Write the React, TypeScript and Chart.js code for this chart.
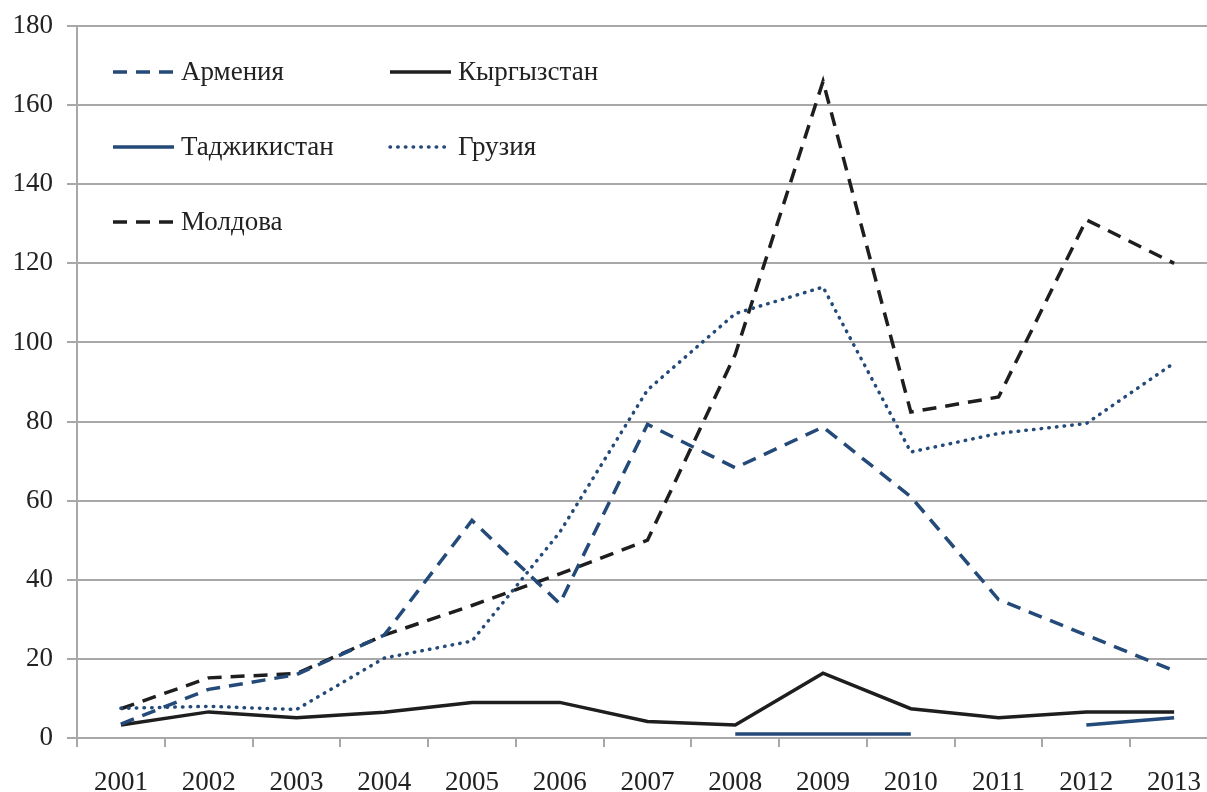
import React, { useEffect, useRef } from "react";
import { Chart, registerables } from "chart.js";

Chart.register(...registerables);

const years = ["2001", "2002", "2003", "2004", "2005", "2006", "2007", "2008", "2009", "2010", "2011", "2012", "2013"];
const armenia = [3.5, 12.3, 16, 26, 55, 34, 79.3, 68.3, 78.6, 61, 35, 26, 17];
const kyrgyzstan = [3.3, 6.6, 5.1, 6.5, 9, 9, 4.2, 3.3, 16.4, 7.4, 5.1, 6.6, 6.6];
const tajikistan = [null, null, null, null, null, null, null, 1, 1, 1, null, 3.3, 5.1];
const georgia = [7.5, 8, 7.2, 20.2, 24.5, 52, 88, 107.3, 114, 72.3, 77, 79.5, 94.8];
const moldova = [7.4, 15.2, 16.3, 26, 33.5, 41.5, 50, 97, 166, 82.4, 86.2, 131, 120];
const yTicks = { min: 0, max: 180, step: 20 };

const BLUE = "#234A78";
const BLACK = "#1E1E1E";
const GRID = "#A8A8A8";
const FONT = "'Liberation Serif', 'Times New Roman', serif";
const DASH = [14, 9];
const DOT = [0.5, 7.2];

const legendItems = [
  { label: "Армения", color: BLUE, dash: DASH, cap: "butt", col: 0, row: 0 },
  { label: "Кыргызстан", color: BLACK, dash: [], cap: "butt", col: 1, row: 0 },
  { label: "Таджикистан", color: BLUE, dash: [], cap: "butt", col: 0, row: 1 },
  { label: "Грузия", color: BLUE, dash: DOT, cap: "round", col: 1, row: 1 },
  { label: "Молдова", color: BLACK, dash: DASH, cap: "butt", col: 0, row: 2 },
];

const legendPlugin = {
  id: "customLegend",
  afterDraw(chart: any) {
    const { ctx, chartArea } = chart;
    const colX = [chartArea.left + 36, chartArea.left + 313];
    const rowY = [chartArea.top + 46, chartArea.top + 121, chartArea.top + 196];
    ctx.save();
    legendItems.forEach((it) => {
      const x = colX[it.col];
      const y = rowY[it.row];
      ctx.beginPath();
      ctx.strokeStyle = it.color;
      ctx.lineWidth = 3.5;
      ctx.lineCap = it.cap;
      ctx.setLineDash(it.dash);
      ctx.moveTo(x, y);
      ctx.lineTo(x + 61, y);
      ctx.stroke();
      ctx.setLineDash([]);
      ctx.fillStyle = "#222";
      ctx.font = `27px ${FONT}`;
      ctx.textBaseline = "middle";
      ctx.textAlign = "left";
      ctx.fillText(it.label, x + 68, y + 1);
    });
    ctx.restore();
  },
};

export default function App() {
  const ref = useRef<HTMLCanvasElement | null>(null);
  useEffect(() => {
    if (!ref.current) return;
    const mk = (label: string, data: any[], color: string, dash: number[], cap: string) => ({
      label,
      data,
      borderColor: color,
      backgroundColor: color,
      borderWidth: 3.5,
      borderDash: dash,
      borderCapStyle: cap,
      pointRadius: 0,
      tension: 0,
      spanGaps: false,
      fill: false,
    });
    const chart = new Chart(ref.current, {
      type: "line",
      data: {
        labels: years,
        datasets: [
          mk("Армения", armenia, BLUE, DASH, "butt"),
          mk("Кыргызстан", kyrgyzstan, BLACK, [], "butt"),
          mk("Таджикистан", tajikistan, BLUE, [], "butt"),
          mk("Грузия", georgia, BLUE, DOT, "round"),
          mk("Молдова", moldova, BLACK, DASH, "butt"),
        ],
      },
      options: {
        responsive: false,
        animation: false,
        devicePixelRatio: 1,
        layout: { padding: { top: 26, left: 0, right: 0, bottom: 0 } },
        plugins: { legend: { display: false }, tooltip: { enabled: false } },
        scales: {
          x: {
            offset: true,
            grid: { offset: true, drawOnChartArea: false, drawTicks: true, tickLength: 9, color: GRID, lineWidth: 2 },
            border: { color: GRID, width: 2 },
            ticks: { color: "#222", font: { family: FONT, size: 27 }, padding: 20, maxRotation: 0, autoSkip: false },
            afterFit: (s: any) => { s.height = 54; s.paddingLeft = 0; s.paddingRight = 0; },
          },
          y: {
            min: yTicks.min,
            max: yTicks.max,
            grid: { color: GRID, lineWidth: 2, tickLength: 10, drawTicks: true },
            border: { color: GRID, width: 2 },
            ticks: { stepSize: yTicks.step, color: "#222", font: { family: FONT, size: 27 }, padding: 14 },
            afterFit: (s: any) => { s.width = 77; s.paddingTop = 0; s.paddingBottom = 0; },
          },
        },
      },
      plugins: [legendPlugin],
    });
    return () => chart.destroy();
  }, []);
  return (
    <div style={{ position: "fixed", left: 0, top: 0, width: 1207, height: 792, overflow: "hidden", background: "#fff" }}>
      <canvas ref={ref} width={1218} height={792} style={{ display: "block", width: 1218, height: 792 }} />
    </div>
  );
}
